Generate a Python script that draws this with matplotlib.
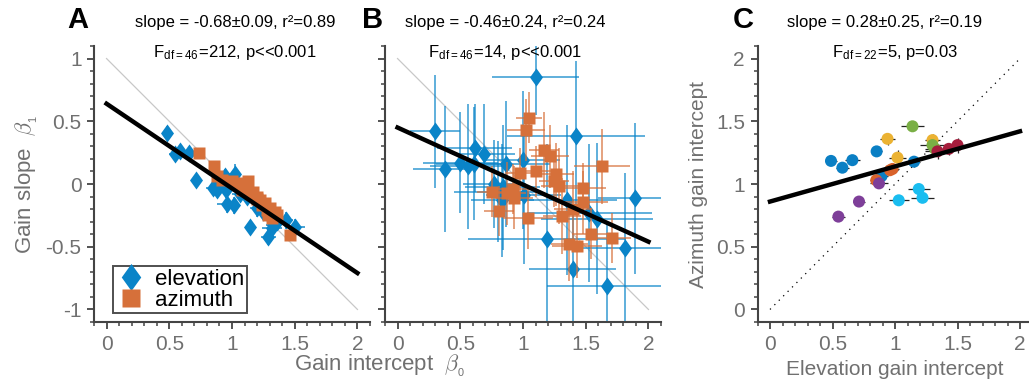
import numpy as np
import matplotlib
matplotlib.use("Agg")
import matplotlib.pyplot as plt
from matplotlib.ticker import MultipleLocator

plt.rcParams['font.family'] = ['Liberation Sans', 'DejaVu Sans']
plt.rcParams['mathtext.fontset'] = 'cm'
plt.rcParams['axes.unicode_minus'] = False

# ---- panel A: gain slope vs gain intercept (narrow errors)
a_el_x = [0.485, 0.544, 0.584, 0.656, 0.71, 0.85, 0.88, 0.944, 0.95, 1.024, 0.957, 1.016,
          1.144, 1.29, 1.317, 1.43, 1.50, 1.12, 1.197, 1.33, 0.90, 1.06, 1.25, 1.36]
a_el_y = [0.41, 0.24, 0.26, 0.25, 0.03, -0.03, -0.05, 0.06, -0.05, 0.08, -0.16, -0.17,
          -0.34, -0.42, -0.35, -0.29, -0.34, -0.10, -0.19, -0.33, 0.0, -0.08, -0.22, -0.30]
a_el_xerr = [0.03, 0.05, 0.04, 0.05, 0.04, 0.06, 0.05, 0.05, 0.07, 0.05, 0.08, 0.05,
             0.04, 0.06, 0.08, 0.06, 0.08, 0.06, 0.05, 0.06, 0.05, 0.06, 0.07, 0.05]
a_el_yerr = [0.05, 0.05, 0.05, 0.04, 0.04, 0.06, 0.05, 0.06, 0.06, 0.08, 0.07, 0.07,
             0.04, 0.07, 0.06, 0.07, 0.06, 0.05, 0.07, 0.06, 0.05, 0.05, 0.06, 0.06]
a_az_x = [0.736, 0.859, 0.877, 0.92, 0.997, 1.04, 1.08, 1.125, 1.09, 1.17, 1.197, 1.224,
          1.264, 1.30, 1.344, 1.357, 1.29, 1.46, 1.15, 1.20, 1.24, 1.28, 1.32, 1.05]
a_az_y = [0.25, 0.14, 0.065, 0.03, 0.02, 0.005, -0.05, 0.025, -0.03, -0.06, -0.10, -0.13,
          -0.155, -0.195, -0.22, -0.25, -0.25, -0.41, -0.08, -0.12, -0.17, -0.21, -0.27, 0.0]
a_az_xerr = [0.02, 0.03, 0.03, 0.02, 0.03, 0.03, 0.03, 0.04, 0.03, 0.03, 0.03, 0.03,
             0.03, 0.04, 0.03, 0.03, 0.04, 0.03, 0.03, 0.03, 0.03, 0.03, 0.03, 0.03]
a_az_yerr = [0.02, 0.03, 0.03, 0.02, 0.03, 0.02, 0.03, 0.04, 0.03, 0.03, 0.03, 0.03,
             0.03, 0.04, 0.03, 0.03, 0.03, 0.04, 0.03, 0.03, 0.03, 0.03, 0.03, 0.03]

# ---- panel B (wide errors)
b_el_x = [0.30, 0.376, 0.50, 0.616, 0.688, 0.61, 0.864, 0.998, 0.77, 0.837, 0.835, 1.005,
          1.10, 1.424, 1.19, 1.35, 1.395, 1.53, 1.59, 1.67, 1.81, 1.896, 0.80, 0.56]
b_el_y = [0.42, 0.12, 0.17, 0.29, 0.24, 0.16, 0.16, 0.19, 0.0, -0.027, -0.13, -0.09,
          0.85, 0.384, -0.435, -0.128, -0.68, -0.23, -0.275, -0.81, -0.51, -0.115, -0.06, 0.14]
b_el_xerr = [0.2, 0.25, 0.3, 0.3, 0.25, 0.3, 0.35, 0.3, 0.25, 0.3, 0.25, 0.3,
             0.35, 0.55, 0.63, 0.4, 0.35, 0.5, 0.45, 0.48, 0.4, 0.3, 0.35, 0.3]
b_el_yerr = [0.45, 0.5, 0.4, 0.35, 0.4, 0.45, 0.5, 0.55, 0.35, 0.5, 0.45, 0.55,
             0.3, 0.6, 0.75, 0.6, 0.5, 0.55, 0.6, 0.5, 0.6, 0.6, 0.4, 0.5]
b_az_x = [1.048, 1.024, 1.17, 1.216, 0.976, 1.26, 1.25, 1.29, 1.63, 0.75, 0.87, 0.92,
          0.928, 0.81, 1.04, 1.31, 1.48, 1.48, 1.54, 1.71, 1.37, 1.43, 1.40, 1.10]
b_az_y = [0.53, 0.43, 0.27, 0.22, 0.085, 0.077, 0.02, -0.016, 0.14, -0.06, -0.075, -0.04,
          -0.11, -0.216, -0.27, -0.256, -0.03, -0.147, -0.395, -0.43, -0.475, -0.496, -0.20, 0.10]
b_az_xerr = [0.1, 0.15, 0.12, 0.15, 0.12, 0.15, 0.12, 0.15, 0.22, 0.12, 0.15, 0.12,
             0.15, 0.12, 0.2, 0.15, 0.18, 0.2, 0.15, 0.15, 0.15, 0.2, 0.15, 0.12]
b_az_yerr = [0.2, 0.25, 0.3, 0.25, 0.2, 0.25, 0.2, 0.3, 0.3, 0.2, 0.25, 0.2,
             0.25, 0.2, 0.25, 0.3, 0.2, 0.25, 0.2, 0.2, 0.3, 0.25, 0.3, 0.2]

# ---- panel C: azimuth vs elevation intercept, coloured by group
c_x = [0.488, 0.579, 0.659, 0.853, 0.893, 1.152, 0.85, 0.96, 0.98, 0.94, 1.02, 1.30,
       0.547, 0.712, 0.872, 1.14, 1.30, 1.32, 1.03, 1.19, 1.22, 1.34, 1.43, 1.50]
c_y = [1.184, 1.13, 1.19, 1.26, 1.064, 1.178, 1.03, 1.11, 1.12, 1.36, 1.21, 1.35,
       0.74, 0.86, 1.005, 1.46, 1.31, 1.28, 0.87, 0.96, 0.89, 1.26, 1.28, 1.31]
c_xerr = [0.05, 0.05, 0.06, 0.04, 0.05, 0.05, 0.05, 0.06, 0.05, 0.06, 0.07, 0.06,
          0.05, 0.05, 0.07, 0.09, 0.1, 0.08, 0.08, 0.09, 0.09, 0.1, 0.09, 0.08]
c_yerr = [0.03, 0.03, 0.03, 0.03, 0.04, 0.04, 0.03, 0.04, 0.03, 0.05, 0.06, 0.05,
          0.02, 0.03, 0.03, 0.04, 0.04, 0.04, 0.03, 0.03, 0.03, 0.06, 0.05, 0.06]
c_group = [0, 0, 0, 0, 0, 0, 1, 1, 1, 2, 2, 2, 3, 3, 3, 4, 4, 4, 5, 5, 5, 6, 6, 6]
group_colors = ['#0a7fc4', '#d9622b', '#ebb232', '#7e3f99', '#7aaf45', '#1abdf0', '#a51d3c']

# fits (slope, intercept)
fit_a = (-0.675, 0.64)
fit_b = (-0.455, 0.45)
fit_c = (0.28, 0.86)

blue = '#0a84c8'
orange = '#d6703a'
spine_col = '#444444'
lab_col = '#707070'

diamond = [(0, 1), (0.72, 0), (0, -1), (-0.72, 0), (0, 1)]

fig = plt.figure(figsize=(10.29, 3.84), dpi=100)
axA = fig.add_axes([94/1029, 62/384, 276/1029, 276/384])
axB = fig.add_axes([385/1029, 62/384, 276/1029, 276/384])
axC = fig.add_axes([757.5/1029, 62/384, 275/1029, 276/384])


def style(ax, ylo, yhi, ylabels=True):
    ax.set_xlim(-0.1, 2.1)
    ax.set_ylim(ylo, yhi)
    for s in ['top', 'right']:
        ax.spines[s].set_visible(False)
    for s in ['left', 'bottom']:
        ax.spines[s].set_color(spine_col)
        ax.spines[s].set_linewidth(1.5)
    ax.xaxis.set_major_locator(MultipleLocator(0.5))
    ax.xaxis.set_minor_locator(MultipleLocator(0.1))
    ax.yaxis.set_major_locator(MultipleLocator(0.5))
    ax.yaxis.set_minor_locator(MultipleLocator(0.1))
    ax.tick_params(which='major', direction='out', length=5, width=1.3, color=spine_col,
                   labelsize=15, labelcolor=lab_col, pad=4)
    ax.tick_params(which='minor', direction='out', length=3, width=1.1, color=spine_col)
    ax.xaxis.set_major_formatter(plt.FuncFormatter(lambda v, p: ('%g' % v)))
    ax.yaxis.set_major_formatter(plt.FuncFormatter(lambda v, p: ('%g' % v)))
    if not ylabels:
        ax.set_yticklabels([])


def scatter_panel(ax, ex, ey, exe, eye, zx, zy, zxe, zye, fit, ealpha):
    ax.plot([0, 2], [1, -1], color='#c8c8c8', lw=0.9, zorder=1)
    ax.errorbar(ex, ey, xerr=exe, yerr=eye, fmt='none', ecolor=blue, alpha=ealpha,
                elinewidth=1.4, capsize=0, zorder=2)
    h1, = ax.plot(ex, ey, ls='none', marker=diamond, ms=13, color=blue, mec='none', zorder=3)
    ax.errorbar(zx, zy, xerr=zxe, yerr=zye, fmt='none', ecolor=orange, alpha=ealpha,
                elinewidth=1.4, capsize=0, zorder=4)
    h2, = ax.plot(zx, zy, ls='none', marker='s', ms=9, color=orange, mec='none', zorder=5)
    xs = np.array([0, 2])
    ax.plot(xs, fit[0] * xs + fit[1], color='black', lw=3.2, zorder=6)
    return h1, h2


style(axA, -1.1, 1.1)
style(axB, -1.1, 1.1, ylabels=False)
style(axC, -0.1, 2.1)

h1, h2 = scatter_panel(axA, a_el_x, a_el_y, a_el_xerr, a_el_yerr,
                       a_az_x, a_az_y, a_az_xerr, a_az_yerr, fit_a, 0.75)
scatter_panel(axB, b_el_x, b_el_y, b_el_xerr, b_el_yerr,
              b_az_x, b_az_y, b_az_xerr, b_az_yerr, fit_b, 0.65)

leg = axA.legend([h1, h2], ['elevation', 'azimuth'], loc='lower left',
                 bbox_to_anchor=(0.069, 0.033), borderaxespad=0, fontsize=16,
                 fancybox=False, handlelength=1.4, handletextpad=0.4, markerscale=1.5,
                 borderpad=0.1, labelspacing=0.0)
leg.get_frame().set_edgecolor('#222222')
leg.get_frame().set_linewidth(1.4)

# panel C
axC.plot([0, 2], [0, 2], color='black', lw=0.9, ls=(0, (1, 4)), zorder=1)
axC.errorbar(c_x, c_y, xerr=c_xerr, yerr=c_yerr, fmt='none', ecolor='#222222',
             elinewidth=0.9, capsize=0, zorder=2)
axC.scatter(c_x, c_y, s=75, c=[group_colors[g] for g in c_group], edgecolors='none', zorder=3)
xs = np.array([0, 2])
axC.plot(xs, fit_c[0] * xs + fit_c[1], color='black', lw=3.2, zorder=4)

# labels
axA.set_ylabel(r'Gain slope  $\beta_{\mathregular{_1}}$', fontsize=16, color=lab_col, labelpad=4)
fig.text(380/1029, 1 - 366/384, r'Gain intercept  $\beta_{\mathregular{_0}}$', fontsize=16,
         color=lab_col, ha='center', va='center')
axC.set_ylabel('Azimuth gain intercept', fontsize=15, color=lab_col, labelpad=6)
axC.set_xlabel('Elevation gain intercept', fontsize=15, color=lab_col, labelpad=5)

# titles and stats
fig.text(235/1029, 1 - 23/384, 'slope = -0.68±0.09, r²=0.89', fontsize=12, ha='center', va='center')
fig.text(505/1029, 1 - 23/384, 'slope = -0.46±0.24, r²=0.24', fontsize=12, ha='center', va='center')
fig.text(885/1029, 1 - 23/384, 'slope = 0.28±0.25, r²=0.19', fontsize=12, ha='center', va='center')
fig.text(235/1029, 1 - 52/384, r'F$_{\mathregular{df=46}}$=212, p<<0.001', fontsize=12, ha='center', va='center')
fig.text(505/1029, 1 - 52/384, r'F$_{\mathregular{df=46}}$=14, p<<0.001', fontsize=12, ha='center', va='center')
fig.text(895/1029, 1 - 52/384, r'F$_{\mathregular{df=22}}$=5, p=0.03', fontsize=12, ha='center', va='center')

for lbl, x in [('A', 78), ('B', 373), ('C', 743)]:
    fig.text(x/1029, 1 - 20/384, lbl, fontsize=21, fontweight='bold', ha='center', va='center')

fig.savefig('out.png', dpi=100)
